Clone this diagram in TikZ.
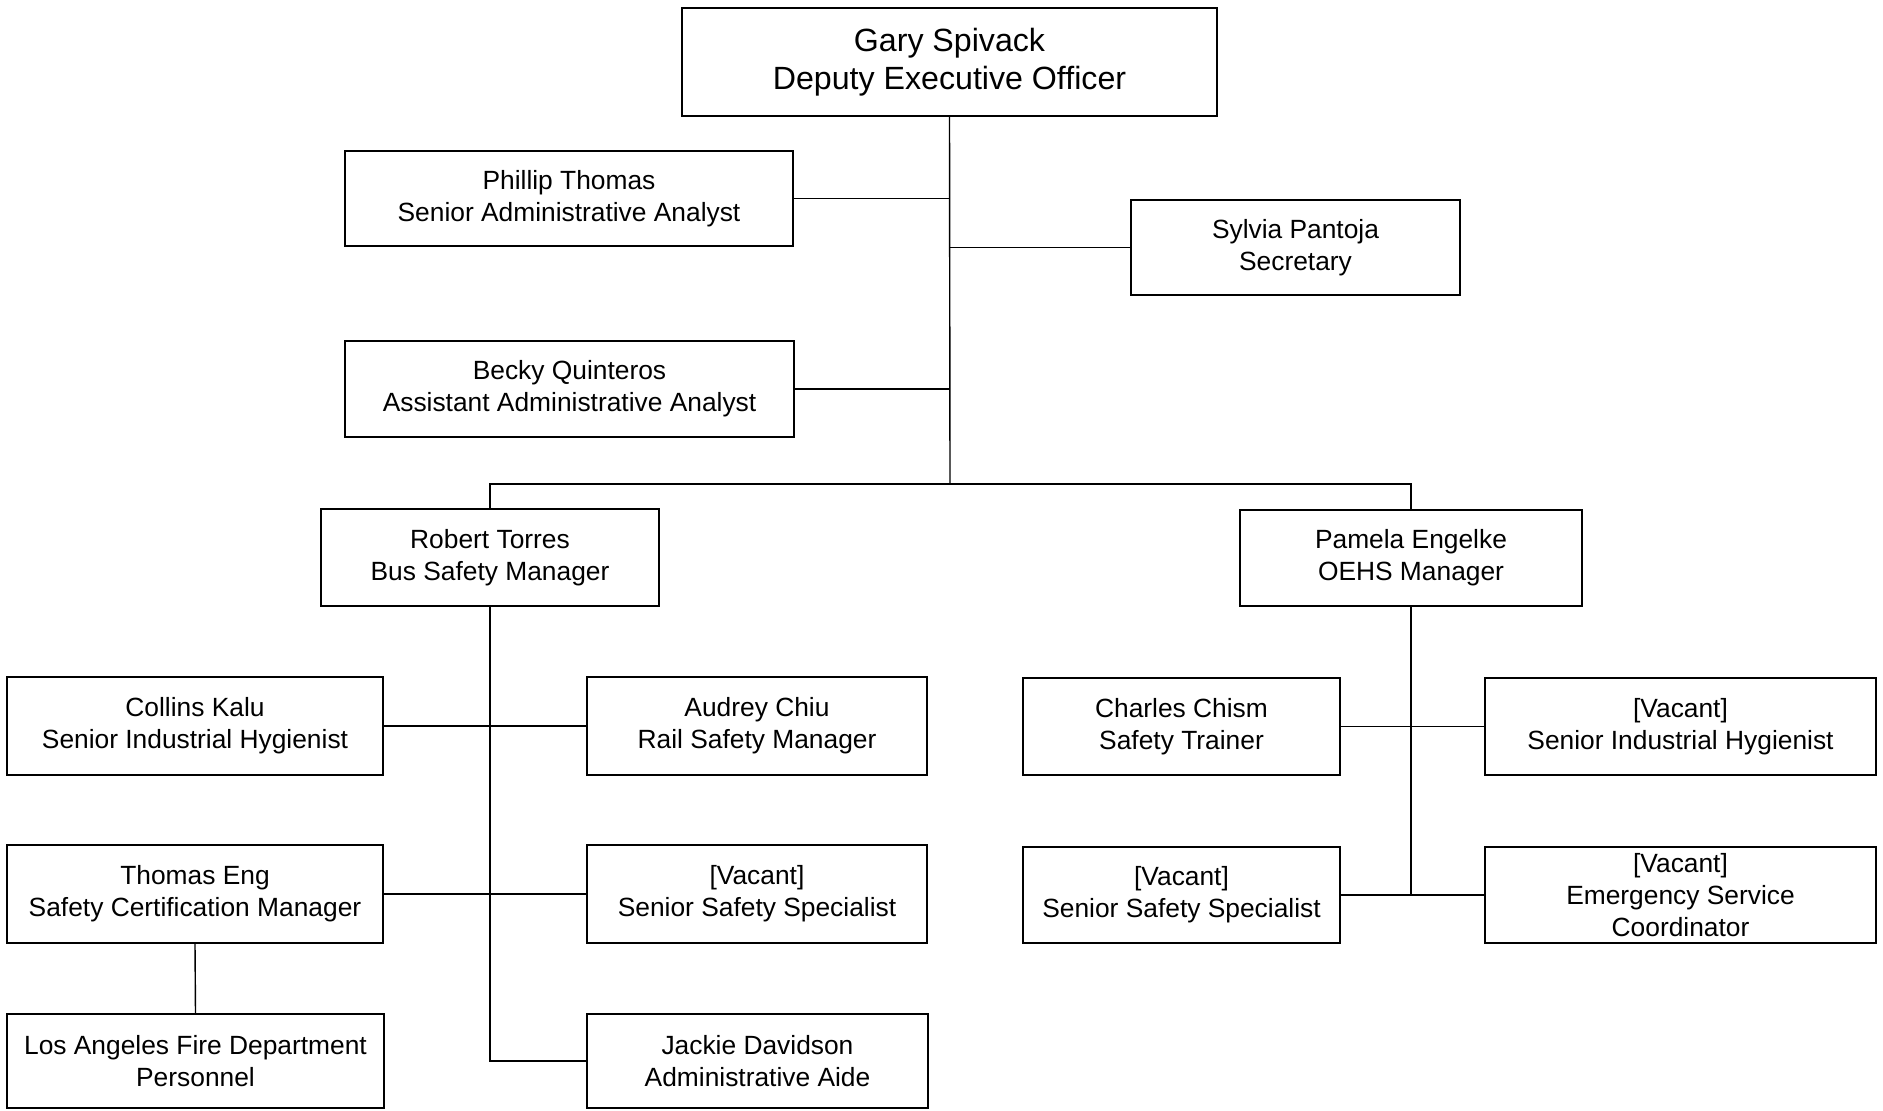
\documentclass[tikz,border=0pt]{standalone}
\usepackage{fontspec}
\setmainfont{Liberation Sans}
\usepackage{tikz}

\begin{document}
\begin{tikzpicture}[
    x=0.02cm, y=-0.02cm,
    box/.style={draw, line width=1.1pt, align=center, inner sep=2pt, font=\fontsize{15}{18.4}\selectfont},
    sz/.style 2 args={minimum width=#1*0.02cm, minimum height=#2*0.02cm},
    link/.style={line width=0.8pt}
  ]
    \useasboundingbox (0,0) rectangle (1883,1110);

    %% ---- Top: executive and staff ----
    \node[box, sz={535}{108}, font=\fontsize{18.3}{21.8}\selectfont] (gary) at (949.5,62) {Gary Spivack\\Deputy Executive Officer};
    \node[box, sz={448}{95}] (phillip) at (569,198.5) {Phillip Thomas\\Senior Administrative Analyst};
    \node[box, sz={329}{95}] (sylvia)  at (1295.5,247.5) {Sylvia Pantoja\\Secretary};
    \node[box, sz={449}{96}] (becky)   at (569.5,389) {Becky Quinteros\\Assistant Administrative Analyst};
    \coordinate (trunk) at (950,484);

    \draw[link] (gary.south) -- (trunk);
    \draw[link] (phillip.east) -- (phillip.east -| gary.south);
    \draw[link] (sylvia.west) -- (sylvia.west -| gary.south);
    \draw[link] (becky.east) -- (becky.east -| gary.south);

    %% ---- Managers ----
    \node[box, sz={338}{97}] (robert) at (490,557.5) {Robert Torres\\Bus Safety Manager};
    \node[box, sz={342}{96}] (pamela) at (1411,558) {Pamela Engelke\\OEHS Manager};

    \draw[link] (robert.north) -- (robert.north |- trunk) -- (pamela.north |- trunk) -- (pamela.north);

    %% ---- Left branch: bus safety ----
    \node[box, sz={376}{98}] (collins) at (195,726) {Collins Kalu\\Senior Industrial Hygienist};
    \node[box, sz={340}{98}] (audrey)  at (757,726) {Audrey Chiu\\Rail Safety Manager};
    \node[box, sz={376}{98}] (thomas)  at (195,894) {Thomas Eng\\Safety Certification Manager};
    \node[box, sz={340}{98}] (vacsss)  at (757,894) {[Vacant]\\Senior Safety Specialist};
    \node[box, sz={377}{94}] (lafd)    at (195.5,1061) {Los Angeles Fire Department\\Personnel};
    \node[box, sz={341}{94}] (jackie)  at (757.5,1061) {Jackie Davidson\\Administrative Aide};

    \draw[link] (robert.south) |- (jackie.west);
    \draw[link] (collins.east) -- (audrey.west);
    \draw[link] (thomas.east) -- (vacsss.west);
    \draw[link] (thomas.south) -- (lafd.north);

    %% ---- Right branch: OEHS ----
    \node[box, sz={317}{97}] (charles) at (1181.5,726.5) {Charles Chism\\Safety Trainer};
    \node[box, sz={391}{97}] (vacsih)  at (1680.5,726.5) {[Vacant]\\Senior Industrial Hygienist};
    \node[box, sz={317}{96}] (vacsss2) at (1181.5,895) {[Vacant]\\Senior Safety Specialist};
    \node[box, sz={391}{96}] (vacesc)  at (1680.5,895) {[Vacant]\\Emergency Service\\Coordinator};

    \draw[link] (pamela.south) -- (pamela.south |- vacesc.west);
    \draw[link] (charles.east) -- (vacsih.west);
    \draw[link] (vacsss2.east) -- (vacesc.west);
  \end{tikzpicture}
\end{document}
